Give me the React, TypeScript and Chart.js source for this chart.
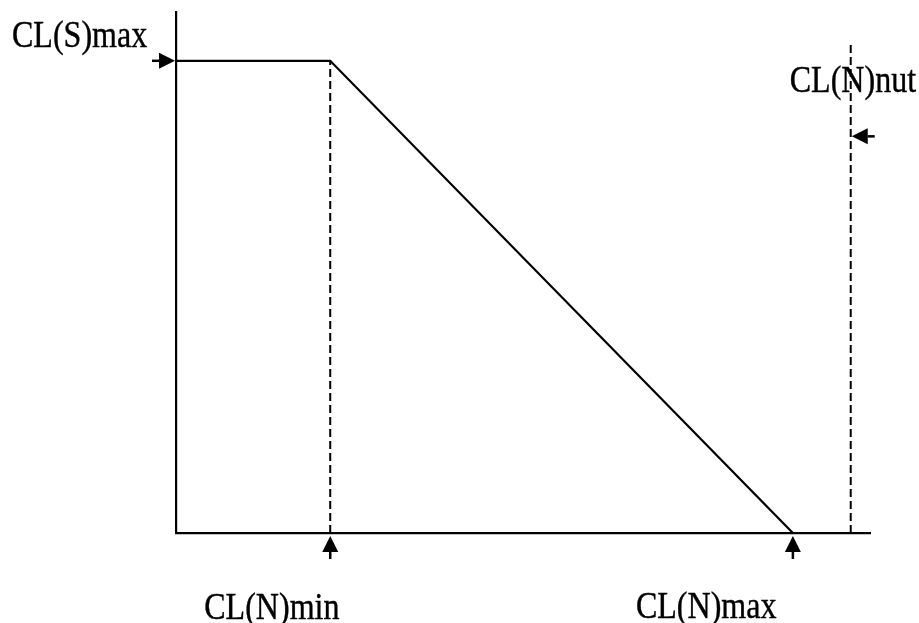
import React, { useEffect, useRef } from "react";
import { Chart, registerables } from "chart.js";

Chart.register(...registerables);

// ---- values ----
const CL_S_MAX = 3;
const CL_N_MIN = 1;
const CL_N_MAX = 4;
const CL_N_NUT = 4.375;
const NUT_LINE_TOP = 3.12;
const NUT_ARROW_Y = 2.52;
const X_MAX = 4.5;
const Y_MAX = 3.31;

const curveX = [0, CL_N_MIN, CL_N_MAX];
const curveY = [CL_S_MAX, CL_S_MAX, 0];
const minLineY = [0, CL_S_MAX];
const nutLineY = [0, NUT_LINE_TOP];
const labelTexts = ["CL(S)max", "CL(N)min", "CL(N)max", "CL(N)nut"];

const annotationPlugin = {
  id: "clAnnotations",
  afterDraw(chart: any) {
    const { ctx } = chart;
    const xs = chart.scales.x;
    const ys = chart.scales.y;
    const px = (v: number) => xs.getPixelForValue(v);
    const py = (v: number) => ys.getPixelForValue(v);
    ctx.save();
    ctx.fillStyle = "#000";
    ctx.strokeStyle = "#000";
    ctx.lineWidth = 2.5;

    const arrow = (tx: number, ty: number, dx: number, dy: number) => {
      const head = 16;
      const half = 8;
      const stem = 23;
      const bx = tx - dx * head;
      const by = ty - dy * head;
      ctx.beginPath();
      ctx.moveTo(tx, ty);
      ctx.lineTo(bx + dy * half, by - dx * half);
      ctx.lineTo(bx - dy * half, by + dx * half);
      ctx.closePath();
      ctx.fill();
      ctx.beginPath();
      ctx.moveTo(bx, by);
      ctx.lineTo(tx - dx * stem, ty - dy * stem);
      ctx.stroke();
    };

    arrow(px(0) - 1, py(CL_S_MAX), 1, 0);
    arrow(px(CL_N_MIN), py(0) + 3, 0, -1);
    arrow(px(CL_N_MAX), py(0) + 3, 0, -1);
    arrow(px(CL_N_NUT) + 1, py(NUT_ARROW_Y), -1, 0);

    ctx.font = "37px 'Liberation Serif', 'Times New Roman', serif";
    ctx.textBaseline = "alphabetic";
    ctx.textAlign = "left";
    const text = (s: string, left: number, base: number) => {
      ctx.save();
      ctx.translate(left, base);
      ctx.scale(0.866, 1);
      ctx.fillText(s, 0, 0);
      ctx.lineWidth = 0.4;
      ctx.strokeText(s, 0, 0);
      ctx.restore();
    };
    text(labelTexts[0], px(0) - 164, py(CL_S_MAX) - 14);
    text(labelTexts[1], px(CL_N_MIN) - 126, py(0) + 86);
    text(labelTexts[2], px(CL_N_MAX) - 157, py(0) + 85);
    text(labelTexts[3], px(CL_N_NUT) - 61, py(NUT_ARROW_Y) - 44);
    ctx.restore();
  },
};

export default function App() {
  const ref = useRef<HTMLCanvasElement | null>(null);
  useEffect(() => {
    if (!ref.current) return;
    const chart = new Chart(ref.current, {
      type: "scatter",
      data: {
        datasets: [
          {
            label: "curve",
            data: curveX.map((x, i) => ({ x, y: curveY[i] })),
            showLine: true,
            borderColor: "#000",
            borderWidth: 2.2,
            pointRadius: 0,
            fill: false,
          },
          {
            label: "min",
            data: minLineY.map((y) => ({ x: CL_N_MIN, y })),
            showLine: true,
            borderColor: "#000",
            borderWidth: 2,
            borderDash: [8, 4],
            pointRadius: 0,
          },
          {
            label: "nut",
            data: nutLineY.map((y) => ({ x: CL_N_NUT, y })),
            showLine: true,
            borderColor: "#000",
            borderWidth: 2,
            borderDash: [8, 4],
            pointRadius: 0,
          },
        ],
      },
      options: {
        responsive: false,
        animation: false,
        devicePixelRatio: 1,
        layout: { padding: { left: 176, right: 49, top: 12, bottom: 90 } },
        plugins: { legend: { display: false }, tooltip: { enabled: false } },
        scales: {
          x: {
            type: "linear",
            min: 0,
            max: X_MAX,
            grid: { display: false, drawTicks: false },
            ticks: { display: false },
            border: { display: true, color: "#000", width: 2.2 },
          },
          y: {
            type: "linear",
            min: 0,
            max: Y_MAX,
            grid: { display: false, drawTicks: false },
            ticks: { display: false },
            border: { display: true, color: "#000", width: 2.2 },
          },
        },
      },
      plugins: [annotationPlugin],
    });
    return () => chart.destroy();
  }, []);
  return (
    <div style={{ position: "fixed", left: 0, top: 0, width: 919, height: 623, background: "#fff" }}>
      <canvas ref={ref} width={919} height={623} style={{ display: "block" }} />
    </div>
  );
}
